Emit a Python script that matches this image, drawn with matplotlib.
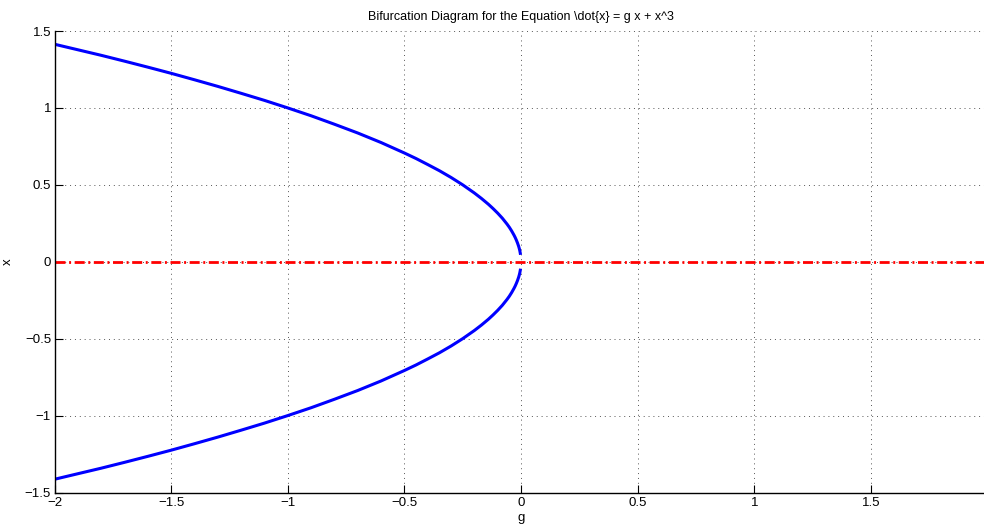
import numpy as np
import matplotlib
matplotlib.use("Agg")
import matplotlib.pyplot as plt

plt.rcParams['font.family'] = ['Liberation Sans', 'DejaVu Sans']

# Upper branch of fixed points (g, x)
g_branch = [-2.0, -1.9, -1.8, -1.7, -1.6, -1.5, -1.4, -1.3, -1.2, -1.1,
            -1.0, -0.9, -0.8, -0.7, -0.6, -0.5, -0.45, -0.4, -0.35, -0.3,
            -0.25, -0.2, -0.17, -0.14, -0.12, -0.1, -0.08, -0.06, -0.05, -0.04,
            -0.03, -0.025, -0.02, -0.015, -0.01, -0.007, -0.005, -0.003, -0.002]
x_upper = [1.414, 1.378, 1.342, 1.304, 1.265, 1.225, 1.183, 1.140, 1.095, 1.049,
           1.000, 0.949, 0.894, 0.837, 0.775, 0.707, 0.671, 0.632, 0.592, 0.548,
           0.500, 0.447, 0.412, 0.374, 0.346, 0.316, 0.283, 0.245, 0.224, 0.200,
           0.173, 0.158, 0.141, 0.122, 0.100, 0.084, 0.071, 0.055, 0.045]
x_lower = [-v for v in x_upper]

# Trivial fixed point x = 0
g_zero = [-2.0, 2.0]
x_zero = [0.0, 0.0]

xticks = [-2, -1.5, -1, -0.5, 0, 0.5, 1, 1.5]
xticklabels = ['\u22122', '\u22121.5', '\u22121', '\u22120.5', '0', '0.5', '1', '1.5']
yticks = [-1.5, -1, -0.5, 0, 0.5, 1, 1.5]
yticklabels = ['\u22121.5', '\u22121', '\u22120.5', '0', '0.5', '1', '1.5']

fig = plt.figure(figsize=(9.84, 5.26), dpi=100)
ax = fig.add_axes([54.5 / 984, 33.5 / 526, 933 / 984, 461.5 / 526])

ax.plot(g_branch, x_upper, color='#0000ff', lw=2.2, solid_capstyle='butt')
ax.plot(g_branch, x_lower, color='#0000ff', lw=2.2, solid_capstyle='butt')
ax.plot(g_zero, x_zero, color='#ff0000', lw=2.0, linestyle=(0, (3.6, 1.3, 0.7, 1.3)))

ax.set_xlim(-2, 2)
ax.set_ylim(-1.5, 1.5)
ax.set_xticks(xticks)
ax.set_xticklabels(xticklabels)
ax.set_yticks(yticks)
ax.set_yticklabels(yticklabels)
ax.axvline(2, color='#555555', linestyle=(0, (1, 4)), lw=0.7)

ax.grid(True, color='#555555', linestyle=(0, (1, 4)), lw=0.7)
for s in ['top', 'right']:
    ax.spines[s].set_visible(False)
for s in ['left', 'bottom']:
    ax.spines[s].set_linewidth(1.0)
ax.tick_params(direction='in', length=6, width=0.8, labelsize=9.5, pad=2.5)
ax.tick_params(axis='x', pad=3.5)

ax.set_title(r'Bifurcation Diagram for the Equation \dot{x} = g x + x^3', fontsize=9, pad=8)
ax.set_xlabel('g', fontsize=9.5, labelpad=2)
ax.set_ylabel('x', fontsize=9.5)
ax.yaxis.set_label_coords((14 - 54.5) / 933, 0.5)

fig.savefig('out.png', dpi=100)
